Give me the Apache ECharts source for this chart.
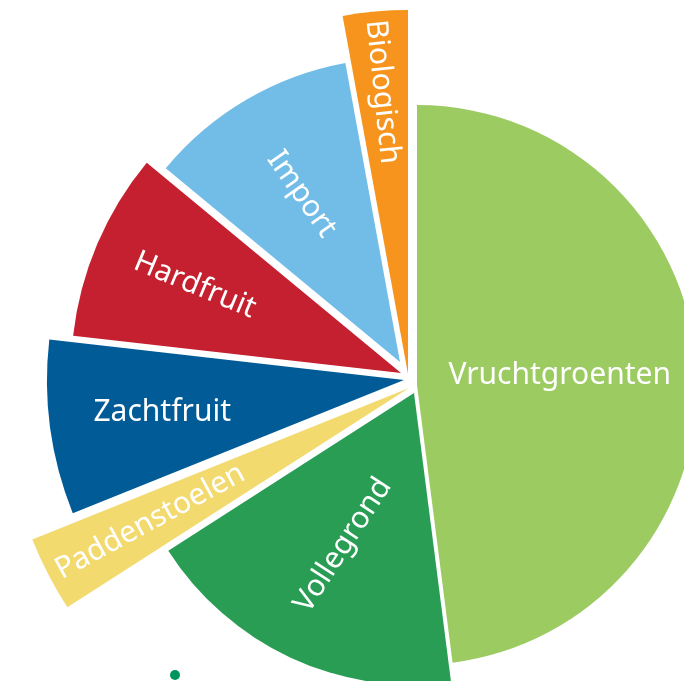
<!DOCTYPE html>
<html>
<head>
<meta charset="utf-8">
<script src="https://cdn.jsdelivr.net/npm/echarts@6/dist/echarts.min.js"></script>
<style>
html,body{margin:0;padding:0;background:#fff;}
#main{width:684px;height:681px;}
</style>
</head>
<body>
<div id="main"></div>
<script>
// slices, clockwise from 12 o'clock
var names = ['Vruchtgroenten', 'Vollegrond', 'Paddenstoelen', 'Zachtfruit', 'Hardfruit', 'Import', 'Biologisch'];
var angles = [172.7, 64.6, 10.8, 28.4, 33.1, 40.05, 10.35]; // share of the circle (degrees)
var radii = [280, 292, 406, 357, 330, 304, 364];            // outer radius of each slice

// layout: where each piece's tip sits, label spot and label angle
var tips = [[417, 385], [414, 393], [409, 388], [404, 380], [401, 373], [400, 362], [408, 374]];
var labelPos = [0.5, 0.565, 0.71, 0.675, 0.67, 0.63, 0.77];
var labelRot = [0, 57, 28.5, 0, -22.6, -55, -84];
var colors = ['#9ccb62', '#2a9d55', '#f2da6e', '#005b96', '#c4202f', '#72bde8', '#f7941d'];

var myChart = echarts.init(document.getElementById('main'));
var series = [];

// one pie per slice, only its own piece is painted
names.forEach(function (name, i) {
    series.push({
        type: 'pie',
        center: tips[i],
        radius: [0, radii[i]],
        startAngle: 90,
        clockwise: true,
        animation: false,
        emphasis: {disabled: true},
        label: {show: false},
        labelLine: {show: false},
        data: names.map(function (n, j) {
            return {
                name: n,
                value: angles[j],
                itemStyle: j === i
                    ? {color: colors[i], borderWidth: 0}
                    : {color: 'rgba(0,0,0,0)', borderWidth: 0}
            };
        })
    });
});

// labels: transparent pies sized so the label sits where it should
names.forEach(function (name, i) {
    series.push({
        type: 'pie',
        center: tips[i],
        radius: [0, 2 * labelPos[i] * radii[i]],
        startAngle: 90,
        clockwise: true,
        animation: false,
        avoidLabelOverlap: false,
        emphasis: {disabled: true},
        labelLine: {show: false},
        label: {
            show: false,
            position: 'inside',
            color: '#fff',
            fontSize: 30,
            fontFamily: 'Noto Sans',
            formatter: '{b}'
        },
        data: names.map(function (n, j) {
            return {
                name: n,
                value: angles[j],
                itemStyle: {color: 'rgba(0,0,0,0)', borderWidth: 0},
                label: {show: j === i, rotate: labelRot[i]}
            };
        })
    });
});

option = {
    backgroundColor: '#fff',
    graphic: [{
        type: 'circle',
        left: 170,
        top: 670,
        shape: {r: 5},
        style: {fill: '#00955f'}
    }],
    series: series
};
myChart.setOption(option);
</script>
</body>
</html>
